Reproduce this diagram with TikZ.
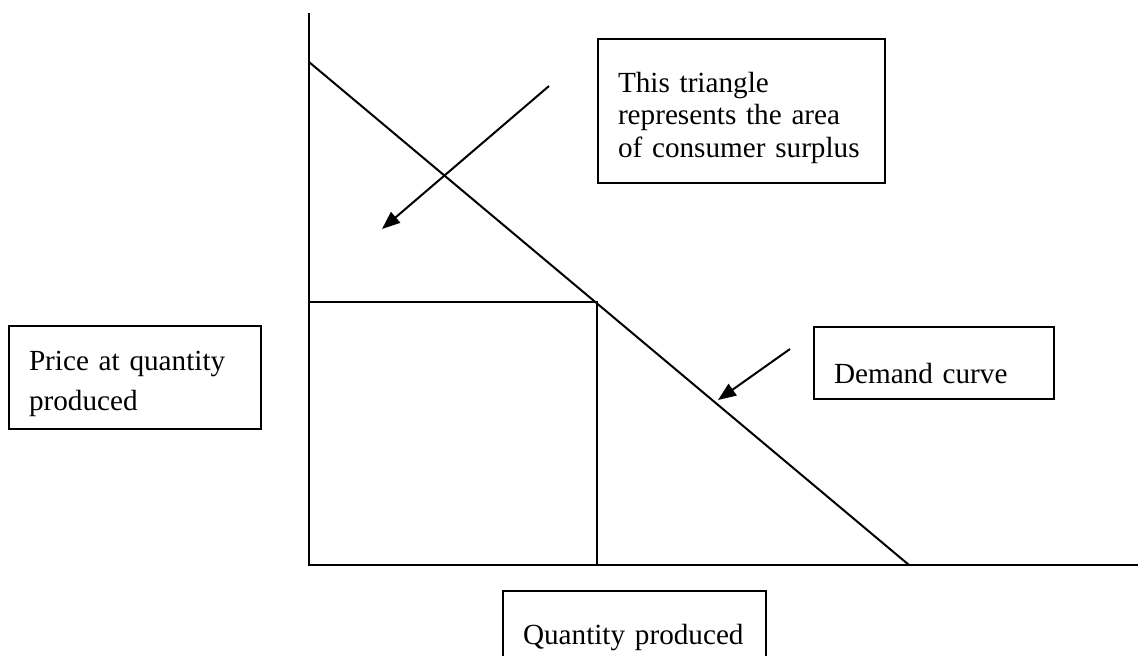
\documentclass[tikz,border=0pt]{standalone}
\usepackage{fontspec}
\setmainfont{Liberation Serif}
\usepackage{tikz}
\usetikzlibrary{positioning,arrows.meta}

\tikzset{textbox/.style={draw,line width=1pt,anchor=north west,inner ysep=0pt,inner xsep=10pt,align=left,font=\fontsize{14.6}{16.25}\selectfont},
  pointer/.style={line width=1pt,-{Triangle[length=9pt,width=7pt]}}}

\begin{document}
\begin{tikzpicture}[x=0.5pt,y=-0.5pt,line width=1pt]
\useasboundingbox (0,0) rectangle (1138,655);
\clip (0,0) rectangle (1138,655);
\coordinate (O) at (309,565);
\coordinate (ytop) at (309,13);
\coordinate (xend) at (1140,565);
\coordinate (pmax) at (309,62);
\coordinate (qmax) at (909,565);
\coordinate (pq) at (309,302);
\coordinate (eq) at (597,302);
\coordinate (q) at (597,565);
\draw (ytop)--(O)--(xend);
\draw (pmax)--(qmax);
\draw (pq)--(eq)--(q);
\node[textbox,text width=123.5pt,text height=26.5pt,text depth=45.5pt] (tribox) at (597,38) {This triangle\\represents the area\\of consumer surplus};
\node[textbox,text width=106pt,text height=22pt,text depth=29.5pt] (pricebox) at (8,325) {Price at quantity\\[3.75pt]produced};
\node[textbox,text width=100pt,text height=28pt,text depth=8pt] (demandbox) at (813,326) {Demand curve};
\node[textbox,text width=111.5pt,text height=26.5pt,text depth=25pt] (qtybox) at (502,590) {Quantity produced};
\coordinate (a1s) at (549,86);
\coordinate (a1e) at (382,229);
\coordinate (a2s) at (790,349);
\coordinate (a2e) at (718,400);
\draw[pointer] (a1s)--(a1e);
\draw[pointer] (a2s)--(a2e);
\end{tikzpicture}
\end{document}
